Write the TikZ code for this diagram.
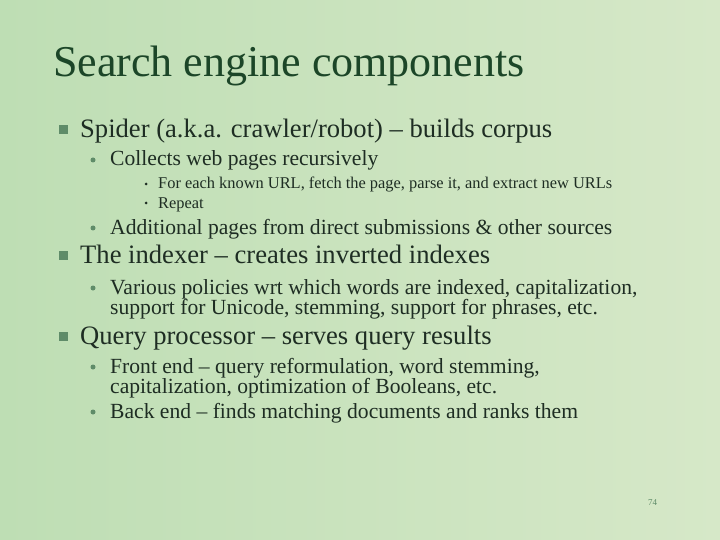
\documentclass[tikz,border=0pt]{standalone}
\usepackage{fontspec}
\setmainfont{Liberation Serif}
\definecolor{bgA}{RGB}{190,222,180}
\definecolor{bgB}{RGB}{214,232,200}
\definecolor{titlec}{RGB}{28,70,40}
\definecolor{txt}{RGB}{30,45,35}
\definecolor{bul}{RGB}{95,140,105}
\begin{document}
\begin{tikzpicture}[x=1pt,y=-1pt,
  ttl/.style={anchor=base west,inner sep=0,text=titlec,font=\fontsize{44}{44}\selectfont},
  lone/.style={anchor=base west,inner sep=0,text=txt,font=\fontsize{26.6}{26}\selectfont},
  ltwo/.style={anchor=base west,inner sep=0,text=txt,font=\fontsize{21.6}{22}\selectfont},
  lthree/.style={anchor=base west,inner sep=0,text=txt,font=\fontsize{16.4}{16}\selectfont},
  sqb/.style={fill=bul,minimum size=9pt,inner sep=0},
  cib/.style={circle,fill=bul,minimum size=5pt,inner sep=0},
  dtb/.style={circle,fill=txt,minimum size=3pt,inner sep=0}]
\useasboundingbox[left color=bgA,right color=bgB] (0,0) rectangle (720,540);
\node[ttl] (t) at (53,77) {Search engine components};
\node[sqb] (b1) at (63,130) {};
\node[lone] (l1) at (80,138) {Spider (a.k.a. crawler/robot) – builds corpus};
\node[cib] (b2) at (93,160) {};
\node[ltwo] (l2) at (110,166) {Collects web pages recursively};
\node[dtb] (b3) at (146,184) {};
\node[lthree] (l3) at (158,189) {For each known URL, fetch the page, parse it, and extract new URLs};
\node[dtb] (b4) at (146,203) {};
\node[lthree] (l4) at (158,208) {Repeat};
\node[cib] (b5) at (93,228) {};
\node[ltwo] (l5) at (110,234) {Additional pages from direct submissions \& other sources};
\node[sqb] (b6) at (63,255) {};
\node[lone] (l6) at (80,263) {The indexer – creates inverted indexes};
\node[cib] (b7) at (93,288) {};
\node[ltwo] (l7) at (110,294) {Various policies wrt which words are indexed, capitalization,};
\node[ltwo] (l7b) at (110,314) {support for Unicode, stemming, support for phrases, etc.};
\node[sqb] (b8) at (63,336) {};
\node[lone] (l8) at (80,344) {Query processor – serves query results};
\node[cib] (b9) at (93,367) {};
\node[ltwo] (l9) at (110,373) {Front end – query reformulation, word stemming,};
\node[ltwo] (l9b) at (110,393) {capitalization, optimization of Booleans, etc.};
\node[cib] (b10) at (93,412) {};
\node[ltwo] (l10) at (110,418) {Back end – finds matching documents and ranks them};
\node[anchor=base west,inner sep=0,text=bul,font=\fontsize{9}{9}\selectfont] (p) at (648,505) {74};
\end{tikzpicture}
\end{document}
